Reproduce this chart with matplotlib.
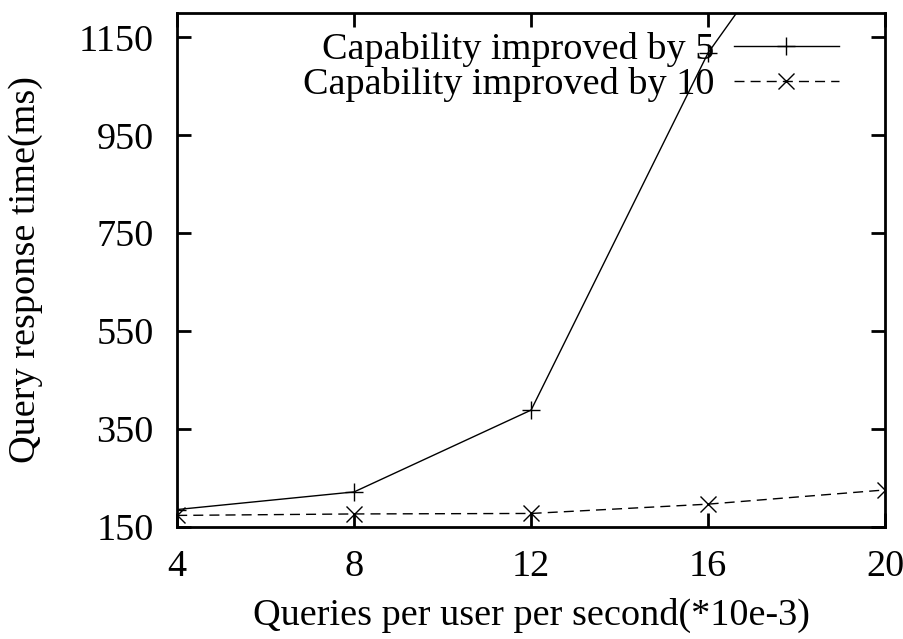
# plot.py

import numpy as np
import matplotlib
matplotlib.use("Agg")
import matplotlib.pyplot as plt

# data
qps = [4, 8, 12, 16, 20]
resp_cap5 = [186, 222, 389, 1118, 1625]
resp_cap10 = [174, 177, 178, 197, 226]
label_cap5 = "Capability improved by 5"
label_cap10 = "Capability improved by 10"
x_ticks = [4, 8, 12, 16, 20]
y_ticks = [150, 350, 550, 750, 950, 1150]

FS = 27.5

plt.rcParams["font.family"] = ["Liberation Serif", "DejaVu Serif"]
plt.rcParams["font.size"] = FS

fig = plt.figure(figsize=(9.04, 6.39), dpi=100)
ax = fig.add_axes([0.196, 0.175, 0.783, 0.805])

ax.plot(qps, resp_cap5, color="black", lw=1.0, marker="+", ms=13,
        mew=1.0, label=label_cap5)
ax.plot(qps, resp_cap10, color="black", lw=1.0, marker="x", ms=11.5,
        mew=1.0, dashes=(7.2, 4.4), label=label_cap10)

ax.set_xlim(4, 20)
ax.set_ylim(150, 1200)
ax.set_xticks(x_ticks)
ax.set_yticks(y_ticks)

# gnuplot-ish frame: inward ticks mirrored on all sides
ax.tick_params(direction="in", length=10, width=2, top=True, right=True,
               labelsize=FS)
ax.tick_params(axis="x", pad=16)
ax.tick_params(axis="y", pad=17)
for s in ax.spines.values():
    s.set_linewidth(2)

ax.set_xlabel("Queries per user per second(*10e-3)", fontsize=FS)
ax.set_ylabel("Query response time(ms)", fontsize=FS)
ax.yaxis.set_label_coords(-0.19, 0.5)
ax.xaxis.set_label_coords(0.5, -0.137)

leg = ax.legend(loc="upper right", bbox_to_anchor=(0.97, 1.01), frameon=False,
                markerfirst=False, handlelength=2.75, handletextpad=0.5,
                labelspacing=0.0, borderaxespad=0.25, fontsize=FS)

fig.savefig("out.png", dpi=100)
